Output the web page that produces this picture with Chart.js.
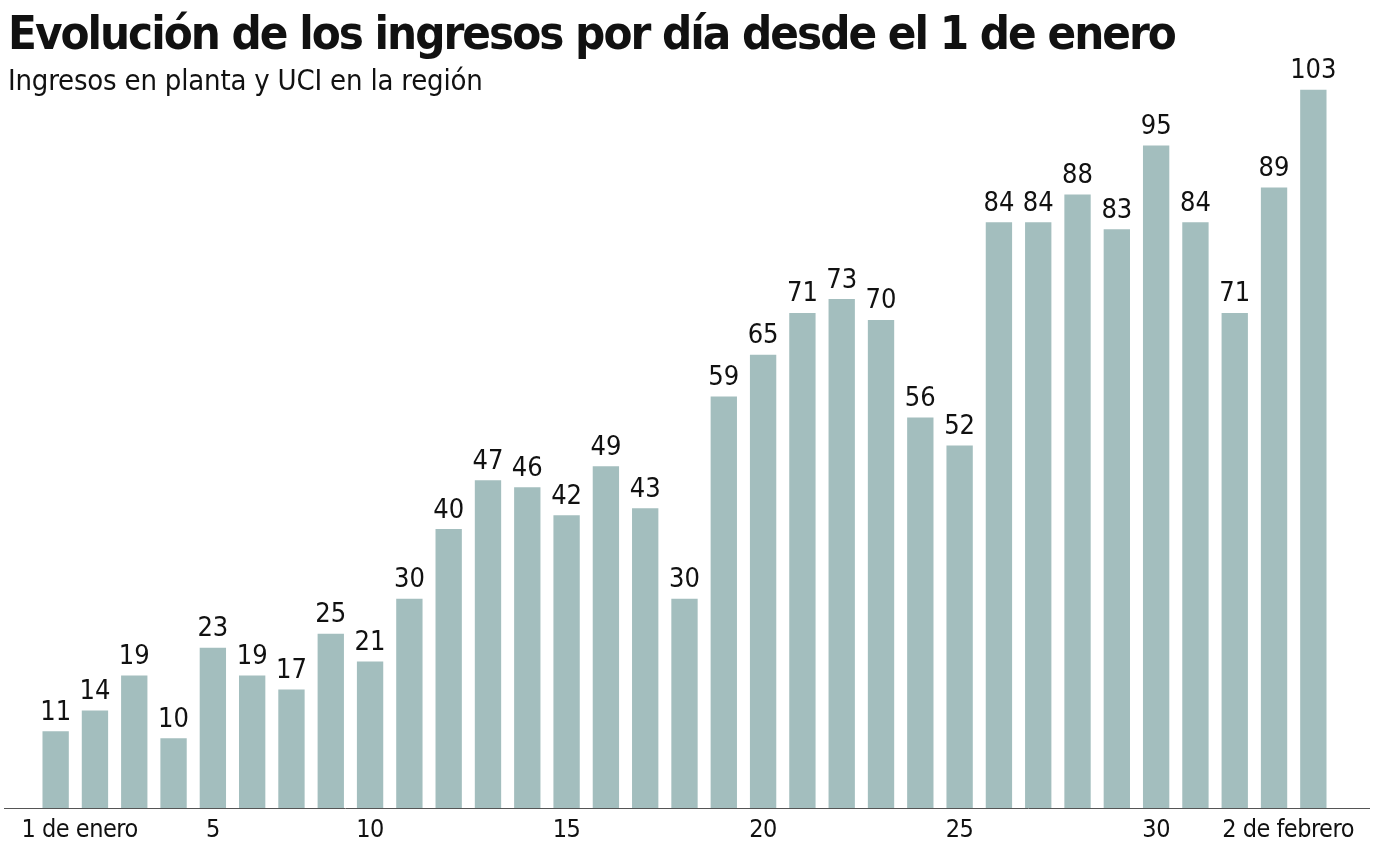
<!DOCTYPE html>
<html>
<head>
<meta charset="utf-8">
<script src="https://cdn.jsdelivr.net/npm/chart.js@4/dist/chart.umd.min.js"></script>
<style>
  html, body { margin: 0; padding: 0; background: #fff; }
  #wrap { position: relative; width: 1374px; height: 847px; }
  #title { position: absolute; left: 8px; top: 5px; font: bold 47px "DejaVu Sans Condensed", Roboto, sans-serif; color: #111; white-space: nowrap; letter-spacing: -2px; }
  #subtitle { position: absolute; left: 8px; top: 63px; font: 29px "DejaVu Sans Condensed", Roboto, sans-serif; color: #111; white-space: nowrap; letter-spacing: -0.2px; }
</style>
</head>
<body>
<div id="wrap">
  <canvas id="ingresos" width="1374" height="847"></canvas>
  <div id="title">Evolución de los ingresos por día desde el 1 de enero</div>
  <div id="subtitle">Ingresos en planta y UCI en la región</div>
</div>
<script>
const tickLabels = ['1 de enero', '', '', '', '5', '', '', '', '10', '', '', '', '', '15', '', '', '', '', '20', '', '', '', '', '25', '', '', '', '', '30', '', '', '2 de febrero', '']
const ingresos = [11, 14, 19, 10, 23, 19, 17, 25, 21, 30, 40, 47, 46, 42, 49, 43, 30, 59, 65, 71, 73, 70, 56, 52, 84, 84, 88, 83, 95, 84, 71, 89, 103]

const fontFamily = '"DejaVu Sans Condensed", Roboto, sans-serif'

// value labels above the bars, long baseline and the day labels under it
const barLabels = {
  id: 'barLabels',
  afterDatasetsDraw(chart) {
    const ctx = chart.ctx
    const meta = chart.getDatasetMeta(0)
    const x = chart.scales.x
    const y0 = chart.scales.y.getPixelForValue(0)
    ctx.save()
    ctx.font = `27px ${fontFamily}`
    ctx.fillStyle = '#111'
    ctx.textAlign = 'center'
    ctx.textBaseline = 'bottom'
    meta.data.forEach((bar, i) => {
      ctx.fillText(ingresos[i], bar.x, bar.y - 5)
    })

    ctx.strokeStyle = '#555'
    ctx.lineWidth = 1
    ctx.beginPath()
    ctx.moveTo(4, y0 + 0.5)
    ctx.lineTo(1370, y0 + 0.5)
    ctx.stroke()

    ctx.font = `25px ${fontFamily}`
    ctx.textBaseline = 'alphabetic'
    ctx.letterSpacing = '-0.5px'
    const last = tickLabels.length - 2
    tickLabels.forEach((lbl, i) => {
      if (!lbl) return
      let px = x.getPixelForValue(i)
      if (i === 0) px += 24
      if (i === last) px += 14
      ctx.fillText(lbl, px, y0 + 29)
    })
    ctx.restore()
  }
}

const ctx = document.getElementById('ingresos').getContext('2d')
const myChart = new Chart(ctx, {
  type: 'bar',
  data: {
    labels: tickLabels,
    datasets: [{
      label: 'Ingresos',
      data: ingresos,
      backgroundColor: '#a3bebe',
      barPercentage: 0.67,
      categoryPercentage: 1,
    }]
  },
  options: {
    responsive: false,
    animation: false,
    layout: {
      padding: { left: 36, right: 41, top: 41, bottom: 39 }
    },
    plugins: {
      legend: { display: false },
      tooltip: { enabled: false }
    },
    scales: {
      y: {
        display: false,
        min: 0,
        max: 110
      },
      x: {
        grid: { display: false, drawTicks: false },
        border: { display: false },
        ticks: { display: false }
      }
    }
  },
  plugins: [barLabels]
});
</script>
</body>
</html>
